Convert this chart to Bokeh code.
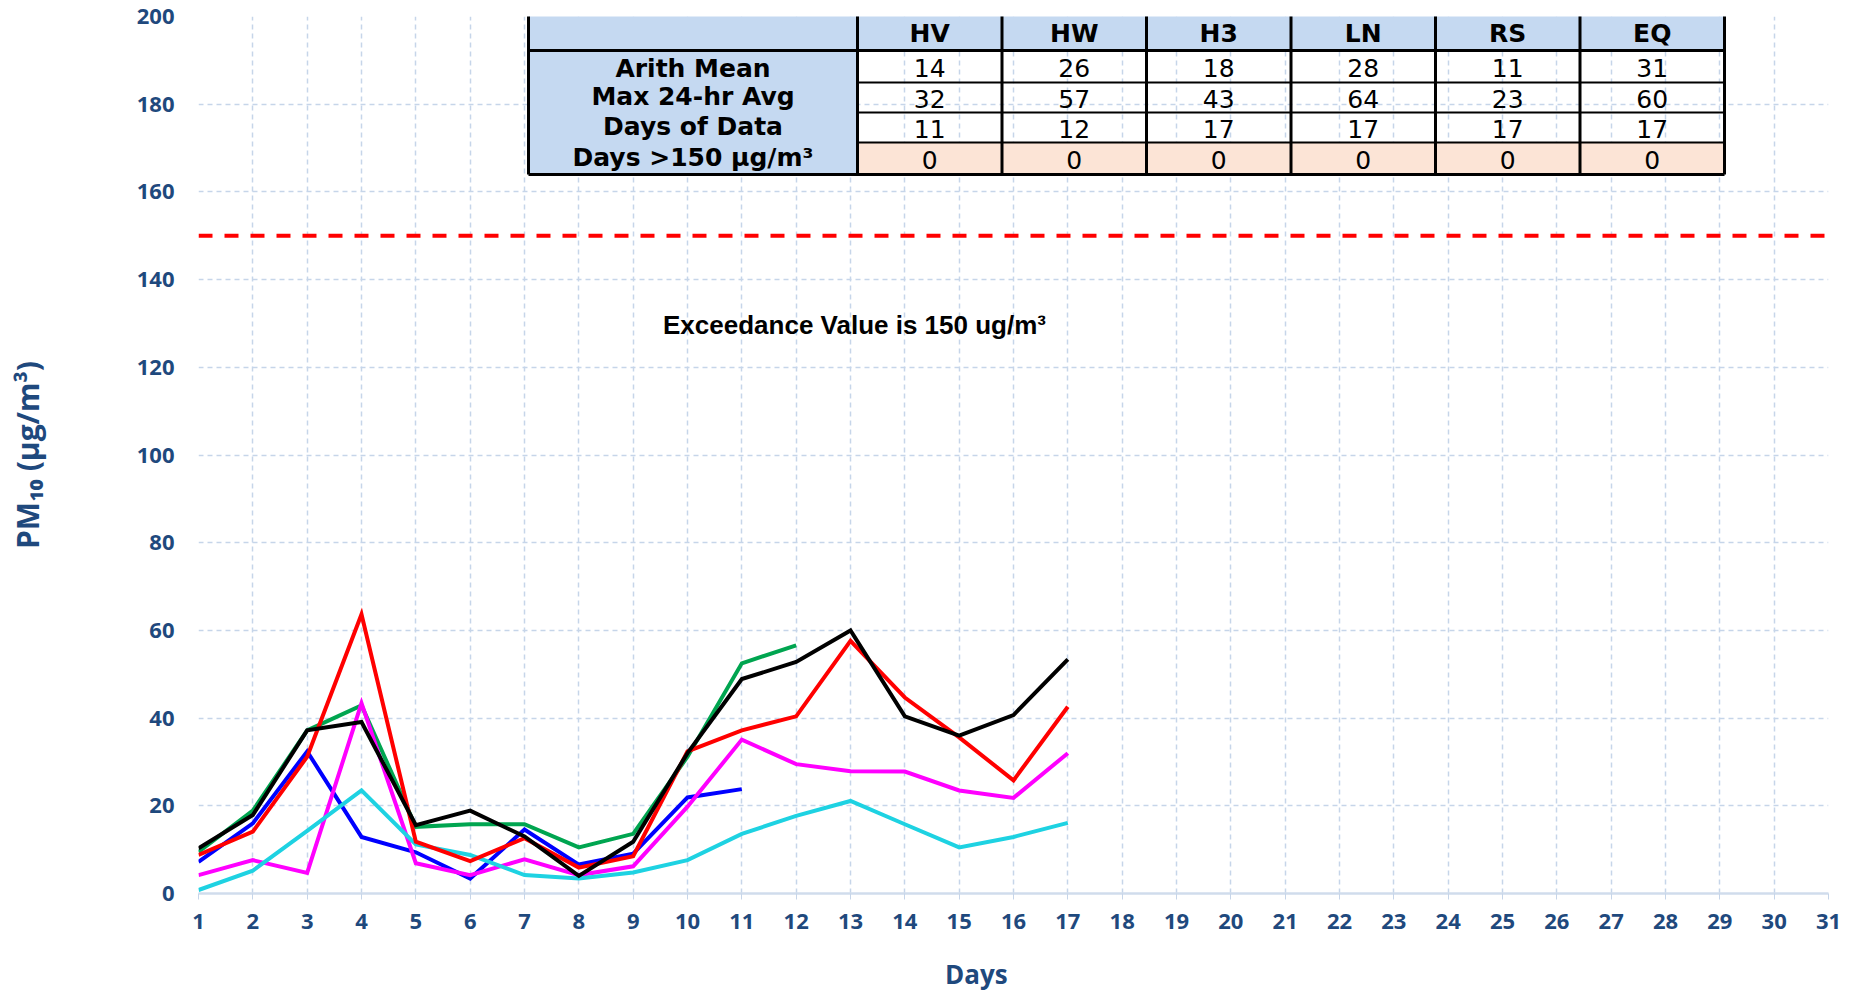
from bokeh.plotting import figure
from bokeh.models import Range1d, FixedTicker, Span
from bokeh.core.properties import value
from bokeh.embed import file_html
from bokeh.resources import INLINE

# ---------------- data ----------------
days = list(range(1, 18))
all_days = list(range(1, 32))
y_ticks = list(range(0, 201, 20))

hv = [7.2, 16.0, 32.4, 12.9, 9.4, 3.4, 14.6, 6.6, 9.1, 21.9, 23.8]
hw = [9.5, 18.9, 37.2, 42.9, 15.2, 15.8, 15.8, 10.5, 13.6, 31.2, 52.5, 56.6]
h3 = [4.2, 7.6, 4.7, 43.4, 6.9, 4.2, 7.8, 4.2, 6.2, 19.8, 35.1, 29.5, 27.9, 27.8, 23.5, 21.8, 32.0]
ln = [8.8, 14.1, 31.2, 63.7, 11.8, 7.4, 12.6, 5.9, 8.5, 32.4, 37.2, 40.4, 57.6, 44.7, 35.6, 25.8, 42.6]
rs = [0.8, 5.2, 14.3, 23.5, 11.2, 8.8, 4.2, 3.4, 4.8, 7.6, 13.6, 17.7, 21.1, 15.8, 10.5, 12.9, 16.1]
eq = [10.3, 17.9, 37.2, 39.1, 15.6, 18.9, 13.0, 4.0, 11.8, 32.0, 48.9, 52.8, 60.0, 40.4, 36.0, 40.7, 53.4]

sites = ["HV", "HW", "H3", "LN", "RS", "EQ"]
arith_mean = ["14", "26", "18", "28", "11", "31"]
max_24hr = ["32", "57", "43", "64", "23", "60"]
days_of_data = ["11", "12", "17", "17", "17", "17"]
days_over = ["0", "0", "0", "0", "0", "0"]
row_labels = ["Arith Mean", "Max 24-hr Avg", "Days of Data", "Days >150 µg/m³"]
standard = 150
exceed_text = "Exceedance Value is 150 ug/m³"
x_title = "Days"
y_title = "PM₁₀ (µg/m³)"

# ---------------- styles ----------------
AXIS_COLOR = "#1F497D"
GRID_COLOR = "#C6D5E9"
HEAD_FILL = "#C5D9F1"
PEACH_FILL = "#FCE4D6"

# frame geometry (canvas px)
FL, FR, FT, FB = 198.0, 1828.0, 16.0, 893.0
W, H = 1842, 994

p = figure(width=W, height=H, x_range=Range1d(1, 31), y_range=Range1d(0, 200),
           output_backend="svg", toolbar_location=None,
           min_border_left=int(FL), min_border_right=int(W - FR),
           min_border_top=int(FT), min_border_bottom=int(H - FB))
p.title.visible = False
p.outline_line_color = None
p.background_fill_color = "white"
p.border_fill_color = "white"

def px2x(px):
    return 1 + (px - FL) * 30.0 / (FR - FL)
def py2y(py):
    return (FB - py) * 200.0 / (FB - FT)

# grids
p.xgrid.ticker = FixedTicker(ticks=all_days)
p.ygrid.ticker = FixedTicker(ticks=y_ticks)
for g in (p.xgrid, p.ygrid):
    g.grid_line_color = GRID_COLOR
    g.grid_line_dash = "5 4"
    g.grid_line_width = 1.5

# axes
p.xaxis.ticker = FixedTicker(ticks=all_days)
p.yaxis.ticker = FixedTicker(ticks=y_ticks)
for ax in (p.xaxis, p.yaxis):
    ax.major_label_text_font = "Open Sans"
    ax.major_label_text_font_style = "bold"
    ax.major_label_text_font_size = "22px"
    ax.major_label_text_color = AXIS_COLOR
    ax.axis_label_text_font = "Open Sans"
    ax.axis_label_text_font_style = "bold"
    ax.axis_label_text_color = AXIS_COLOR
    ax.minor_tick_line_color = None

# x title sits left of the frame centre in the original: pad with no-break spaces
p.xaxis.axis_label = x_title + "\u00a0" * 11
p.xaxis.axis_label_text_font_size = "26px"
p.xaxis.axis_label_standoff = 24
p.xaxis.axis_line_color = "#D0DCEC"
p.xaxis.axis_line_width = 2.5
p.xaxis.major_tick_line_color = GRID_COLOR
p.xaxis.major_tick_out = 6
p.xaxis.major_tick_in = 0
p.xaxis.major_label_standoff = 14

p.yaxis.axis_label = y_title
p.yaxis.axis_label_text_font_size = "30px"
p.yaxis.axis_line_color = None
p.yaxis.major_tick_line_color = None
p.yaxis.major_tick_out = 0
p.yaxis.major_tick_in = 0
p.yaxis.major_label_standoff = 24
p.yaxis.axis_label_standoff = 86

# exceedance line
p.add_layout(Span(location=standard, dimension="width", line_color="#FF0000",
                  line_width=4, line_dash="14 12"))
p.text(x=[px2x(854)], y=[py2y(324)], text=[exceed_text],
       text_font=value("Liberation Sans"), text_font_style="bold",
       text_font_size="26px", text_color="black",
       text_align="center", text_baseline="middle")

# series
series = [
    (hv, "#0000FF"),
    (hw, "#00A550"),
    (h3, "#FF00FF"),
    (rs, "#1ED2E2"),
    (ln, "#FF0000"),
    (eq, "#000000"),
]
for vals, col in series:
    p.line(days[:len(vals)], vals, line_color=col, line_width=4, line_join="miter")

# ---------------- summary table ----------------
T_LEFT, T_LABEL_RIGHT, COL_W = 528.0, 857.0, 144.5
ROWS = [14.0, 50.0, 82.0, 112.0, 142.0, 174.0]
col_edges = [T_LABEL_RIGHT + COL_W * k for k in range(len(sites) + 1)]
T_RIGHT = col_edges[-1]

p.quad(left=[px2x(T_LEFT), px2x(T_LEFT), px2x(T_LABEL_RIGHT)],
       right=[px2x(T_RIGHT), px2x(T_LABEL_RIGHT), px2x(T_RIGHT)],
       top=[py2y(ROWS[0]), py2y(ROWS[1]), py2y(ROWS[4])],
       bottom=[py2y(ROWS[1]), py2y(ROWS[5]), py2y(ROWS[5])],
       fill_color=[HEAD_FILL, HEAD_FILL, PEACH_FILL], line_color=None)

p.segment(x0=[px2x(T_LABEL_RIGHT)] * 3, x1=[px2x(T_RIGHT)] * 3,
          y0=[py2y(r) for r in ROWS[2:5]], y1=[py2y(r) for r in ROWS[2:5]],
          line_color="black", line_width=2)
p.segment(x0=[px2x(T_LEFT)] * 3, x1=[px2x(T_RIGHT)] * 3,
          y0=[py2y(ROWS[0]), py2y(ROWS[1]), py2y(ROWS[5])],
          y1=[py2y(ROWS[0]), py2y(ROWS[1]), py2y(ROWS[5])],
          line_color="black", line_width=3)
vx = [T_LEFT] + col_edges
p.segment(x0=[px2x(v) for v in vx], x1=[px2x(v) for v in vx],
          y0=[py2y(ROWS[0])] * len(vx), y1=[py2y(ROWS[5])] * len(vx),
          line_color="black", line_width=3)

col_centers = [(col_edges[i] + col_edges[i + 1]) / 2 for i in range(len(sites))]
p.text(x=[px2x(c) for c in col_centers], y=[py2y(33)] * len(sites), text=sites,
       text_font=value("DejaVu Sans"), text_font_style="bold", text_font_size="25px",
       text_color="black", text_align="center", text_baseline="middle")

label_y = [68, 96, 126, 157]
p.text(x=[px2x((T_LEFT + T_LABEL_RIGHT) / 2)] * 4, y=[py2y(v) for v in label_y],
       text=row_labels, text_font=value("DejaVu Sans"), text_font_style="bold",
       text_font_size="25px", text_color="black", text_align="center", text_baseline="middle")

row_centers = [(ROWS[i] + ROWS[i + 1]) / 2 for i in range(1, 5)]
for rc, vals in zip(row_centers, [arith_mean, max_24hr, days_of_data, days_over]):
    p.text(x=[px2x(c) for c in col_centers], y=[py2y(rc + 1)] * len(vals), text=vals,
           text_font=value("DejaVu Sans"), text_font_size="25px", text_color="black",
           text_align="center", text_baseline="middle")

open("out.html", "w").write(file_html(p, INLINE))
